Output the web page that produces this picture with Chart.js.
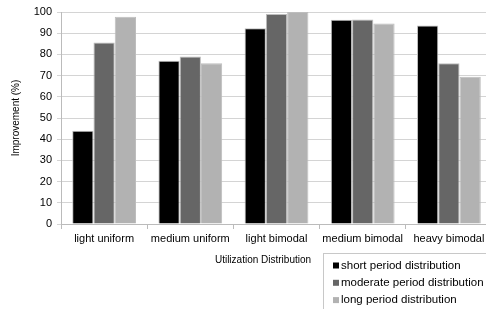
<!DOCTYPE html>
<html>
<head>
<meta charset="utf-8">
<script src="https://cdn.jsdelivr.net/npm/chart.js@4/dist/chart.umd.min.js"></script>
<style>
html,body{margin:0;padding:0;background:#fff;overflow:hidden;width:486px;height:309px;}
#wrap{width:494px;height:309px;position:relative;}
</style>
</head>
<body>
<div id="wrap"><canvas id="c" width="494" height="309"></canvas></div>
<script>
const categories = ["light uniform", "medium uniform", "light bimodal", "medium bimodal", "heavy bimodal"];
const seriesNames = ["short period distribution", "moderate period distribution", "long period distribution"];
const shortPeriod = [44, 77, 92.3, 96.4, 93.6];
const moderatePeriod = [85.6, 79, 99, 96.5, 75.8];
const longPeriod = [97.8, 75.8, 100, 94.6, 69.4];
const yTicks = [0, 10, 20, 30, 40, 50, 60, 70, 80, 90, 100];
const xTitle = "Utilization Distribution";
const yTitle = "Improvement (%)";

const colors = ["#000000", "#666666", "#b2b2b2"];
const FONT = "'Liberation Sans', Arial, Helvetica, sans-serif";

const boxLegend = {
  id: 'boxLegend',
  afterDraw(chart) {
    const ctx = chart.ctx;
    ctx.save();
    // x axis title (placed like the reference, left of the legend box)
    ctx.font = '10px ' + FONT;
    ctx.fillStyle = '#000';
    ctx.textAlign = 'center';
    ctx.textBaseline = 'middle';
    ctx.fillText(xTitle, 263, 260);
    // legend box
    ctx.strokeStyle = '#c8c8c8';
    ctx.lineWidth = 1;
    ctx.strokeRect(323.5, 253.5, 200, 80);
    ctx.font = '11.5px ' + FONT;
    ctx.textAlign = 'left';
    chart.data.datasets.forEach((ds, i) => {
      const y = 265.5 + i * 17.3;
      ctx.fillStyle = ds.backgroundColor;
      ctx.fillRect(333, y - 3, 6, 6);
      ctx.fillStyle = '#000';
      ctx.fillText(ds.label, 341, y);
    });
    ctx.restore();
  }
};

new Chart(document.getElementById('c'), {
  type: 'bar',
  data: {
    labels: categories,
    datasets: [
      { label: seriesNames[0], data: shortPeriod, backgroundColor: colors[0] },
      { label: seriesNames[1], data: moderatePeriod, backgroundColor: colors[1] },
      { label: seriesNames[2], data: longPeriod, backgroundColor: colors[2] }
    ].map(d => Object.assign(d, { borderColor: '#bdbdbd', borderWidth: 1, categoryPercentage: 0.74, barPercentage: 1.0 }))
  },
  options: {
    responsive: false,
    animation: false,
    devicePixelRatio: 1,
    layout: { padding: { top: 12, right: 2, bottom: 0, left: 0 } },
    plugins: { legend: { display: false }, tooltip: { enabled: false } },
    scales: {
      x: {
        grid: { offset: true, drawOnChartArea: false, tickLength: 5, color: '#bbbbbb' },
        border: { color: '#bbbbbb' },
        ticks: { font: { family: FONT, size: 11 }, color: '#000', padding: 3, maxRotation: 0, autoSkip: false },
        afterFit(s) { s.height = 85; }
      },
      y: {
        min: 0, max: 100,
        afterBuildTicks(s) { s.ticks = yTicks.map(v => ({ value: v })); },
        grid: { color: '#d4d4d4', tickLength: 4 },
        border: { color: '#bbbbbb' },
        ticks: { font: { family: FONT, size: 11 }, color: '#000', padding: 5 },
        title: { display: true, text: yTitle, font: { family: FONT, size: 10 }, color: '#000', padding: { top: 10, bottom: 0 } },
        afterFit(s) { s.width = 61; }
      }
    }
  },
  plugins: [boxLegend]
});
</script>
</body>
</html>
